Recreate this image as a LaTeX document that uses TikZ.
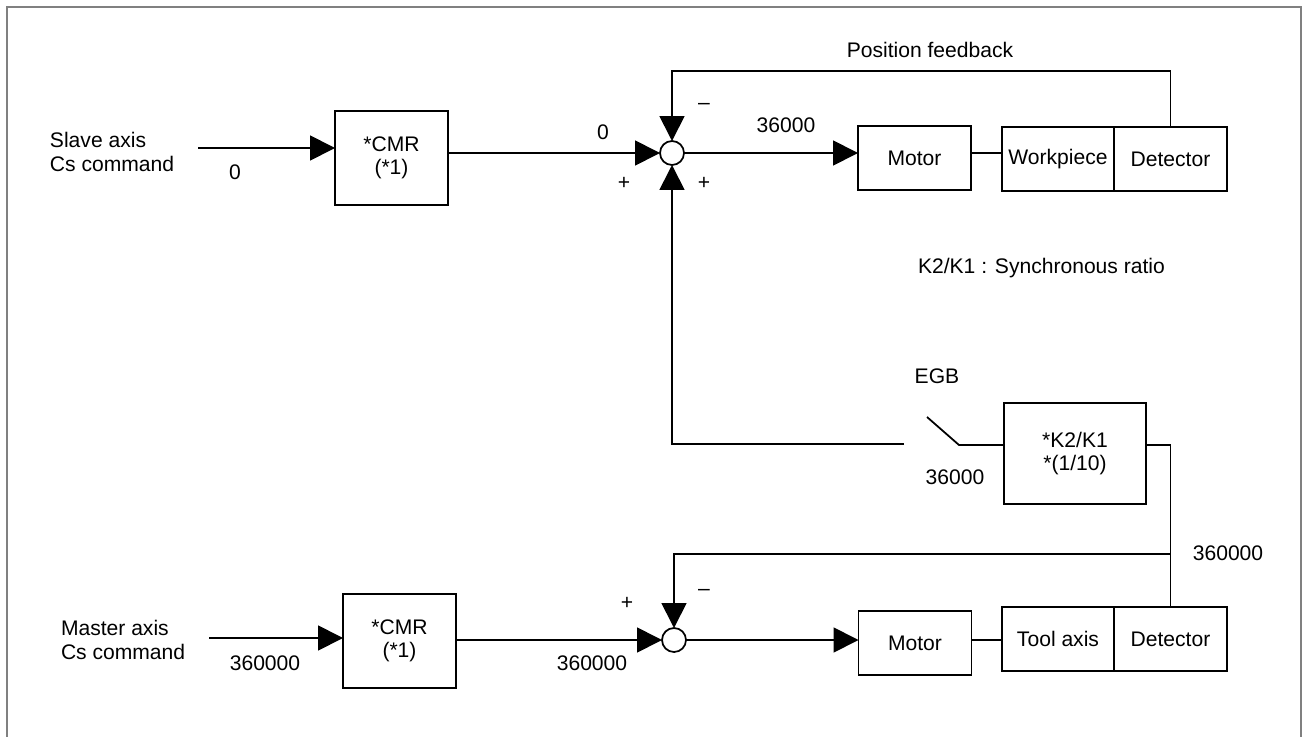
\documentclass[tikz,border=0pt]{standalone}
\usepackage{fontspec}
\setmainfont{Liberation Sans}
\usetikzlibrary{arrows.meta,calc}

\begin{document}
\begin{tikzpicture}[x={(0.02cm,0cm)},y={(0cm,-0.02cm)},
  every node/.style={font=\fontsize{12}{13.2}\selectfont, inner sep=0pt, outer sep=0pt},
  blk/.style={draw, line width=1pt, minimum width=2.26cm, minimum height=1.28cm, align=center},
  cmr/.style={blk, minimum height=1.88cm},
  sum/.style={draw, line width=1pt, circle, minimum size=0.48cm},
  flow/.style={line width=1pt, -{Triangle[length=0.5cm,width=0.5cm]}},
  wire/.style={line width=1pt}]
\useasboundingbox (0,0) rectangle (1302,737);
\draw[gray, line width=1.2pt] (7,737) -- (7,7) -- (1301,7) -- (1301,737);

\node[align=left, anchor=west] (slavetxt) at (50,152) {Slave axis\\Cs command};
\node[cmr] (scmr) at (391.5,158) {*CMR\\(*1)};
\node[sum] (sum1) at (672,153) {};
\node[blk] (motor1) at (914.5,158) {Motor};
\node[blk, minimum width=2.24cm] (work) at (1058,159) {Workpiece};
\node[blk] (det1) at (1170.5,159) {Detector};

\node[blk, minimum width=2.84cm, minimum height=2.02cm] (k21) at (1075,453.5) {*K2/K1\\*(1/10)};

\node[align=left, anchor=west] (mastertxt) at (61,640) {Master axis\\Cs command};
\node[cmr] (mcmr) at (399.5,641) {*CMR\\(*1)};
\node[sum] (sum2) at (674,640) {};
\node[blk] (motor2) at (915,643) {Motor};
\node[blk, minimum width=2.24cm] (tool) at (1058,639) {Tool axis};
\node[blk] (det2) at (1170.5,639) {Detector};

\coordinate (sin) at (198,148);
\coordinate (min) at (209,638);
\coordinate (fbk) at (0,71);
\coordinate (egb) at (904,444);
\coordinate (swa) at (927,417);
\coordinate (swb) at (959,445);
\coordinate (tap) at (0,554);

\draw[flow] (sin) -- (sin -| scmr.west);
\draw[flow] (scmr.east |- sum1) -- (sum1.west);
\draw[flow] (sum1.east) -- (sum1 -| motor1.west);
\draw[wire] (motor1.east |- sum1) -- (work.west |- sum1);
\draw[flow] (det1.north) -- (det1.north |- fbk) -| (sum1.north);
\draw[flow] (egb) -- (egb -| sum1) -- (sum1.south);
\draw[wire] (swa) -- (swb) -- (swb -| k21.west);
\draw[wire] (k21.east |- swb) -| (det2.north);
\draw[flow] (det2.north |- tap) -| (sum2.north);
\draw[flow] (min) -- (min -| mcmr.west);
\draw[flow] (mcmr.east |- sum2) -- (sum2.west);
\draw[flow] (sum2.east) -- (sum2 -| motor2.west);
\draw[wire] (motor2.east |- sum2) -- (tool.west |- sum2);

\node (lbl0a) at (235,172) {0};
\node (lbl0b) at (603,132) {0};
\node (lbl36a) at (786,125) {36000};
\node (minus1) at (704,106) {\textendash};
\node (plus1) at (624,183) {+};
\node (plus2) at (704,183) {+};
\node (fbtxt) at (930,50) {Position feedback};
\node[anchor=west] (ratio) at (918,268) {K2/K1 : Synchronous ratio};
\node (egbtxt) at (937,376) {EGB};
\node (lbl36b) at (955,477) {36000};
\node (lbl360a) at (1228,553) {360000};
\node (lbl360b) at (265,663) {360000};
\node (lbl360c) at (592,663) {360000};
\node (plus3) at (627,603) {+};
\node (minus2) at (704,592) {\textendash};
\end{tikzpicture}
\end{document}
